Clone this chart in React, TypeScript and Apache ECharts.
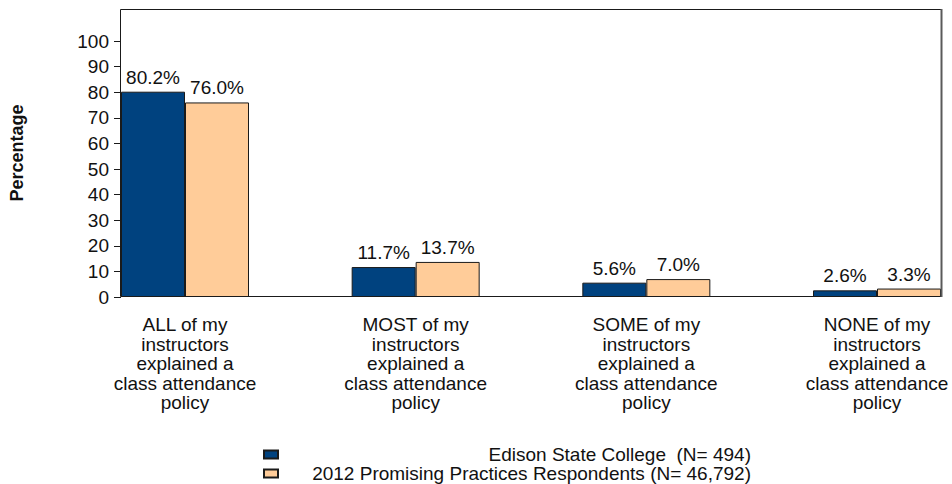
import React, { useEffect, useRef } from "react";
import * as echarts from "echarts";

const categories = [
  "ALL of my\ninstructors\nexplained a\nclass attendance\npolicy",
  "MOST of my\ninstructors\nexplained a\nclass attendance\npolicy",
  "SOME of my\ninstructors\nexplained a\nclass attendance\npolicy",
  "NONE of my\ninstructors\nexplained a\nclass attendance\npolicy",
];
const seriesNames = [
  "Edison State College  (N= 494)",
  "2012 Promising Practices Respondents (N= 46,792)",
];
const edisonValues = [80.2, 11.7, 5.6, 2.6];
const promisingValues = [76.0, 13.7, 7.0, 3.3];
const yTickValues = [0, 10, 20, 30, 40, 50, 60, 70, 80, 90, 100];
const yAxisTitle = "Percentage";

const FONT = "'Liberation Sans', Arial, Helvetica, sans-serif";
const BLUE = "#00427f";
const PEACH = "#ffcc99";

export default function App() {
  const ref = useRef<HTMLDivElement>(null);
  useEffect(() => {
    if (!ref.current) return;
    const chart = echarts.init(ref.current, undefined, { renderer: "svg" });
    const labelCfg = {
      show: true,
      position: "top",
      distance: 5,
      fontSize: 19,
      color: "#111",
      fontFamily: FONT,
      formatter: (p: any) => Number(p.value).toFixed(1) + "%",
    };
    chart.setOption({
      animation: false,
      backgroundColor: "#fff",
      textStyle: { fontFamily: FONT },
      grid: { left: 184, right: 75, top: 9, bottom: 187, containLabel: false },
      graphic: [
        {
          type: "rect",
          shape: { x: 120.5, y: 9.5, width: 821, height: 287 },
          style: { fill: "none", stroke: "#1a1a1a", lineWidth: 1 },
          z: 10,
          silent: true,
        },
        {
          type: "line",
          shape: { x1: 941.5, y1: 9, x2: 941.5, y2: 297 },
          style: { stroke: "#5a5a5a", lineWidth: 2 },
          z: 11,
          silent: true,
        },
      ],
      legend: {
        orient: "vertical",
        left: 263,
        top: 445,
        height: 40,
        padding: 0,
        itemWidth: 14,
        itemHeight: 8,
        itemGap: 0,
        icon: "rect",
        data: seriesNames,
        formatter: (name: string) => "{a|" + name + "}",
        textStyle: {
          fontSize: 19,
          color: "#111",
          fontFamily: FONT,
          rich: {
            a: {
              width: 468,
              align: "right",
              fontSize: 19,
              lineHeight: 18,
              height: 18,
              color: "#111",
              fontFamily: FONT,
            },
          },
        },
      },
      xAxis: {
        type: "category",
        data: categories,
        boundaryGap: false,
        axisLine: { show: false },
        axisTick: { show: false },
        axisLabel: {
          interval: 0,
          fontSize: 19,
          lineHeight: 19.5,
          color: "#111",
          margin: 18,
          fontFamily: FONT,
        },
      },
      yAxis: {
        type: "value",
        min: 0,
        max: 112.5,
        offset: 64,
        name: yAxisTitle,
        nameLocation: "middle",
        nameGap: 95,
        nameTextStyle: { fontSize: 18, fontWeight: "bold", color: "#111", fontFamily: FONT },
        axisLine: { show: false },
        splitLine: { show: false },
        axisTick: {
          show: true,
          length: 7,
          customValues: yTickValues,
          lineStyle: { color: "#1a1a1a", width: 1 },
        },
        axisLabel: {
          customValues: yTickValues,
          fontSize: 19,
          color: "#111",
          margin: 12,
          fontFamily: FONT,
        },
      },
      series: [
        {
          name: seriesNames[0],
          type: "bar",
          data: edisonValues,
          barWidth: 64,
          barGap: "0%",
          clip: false,
          itemStyle: { color: BLUE, borderColor: "#1a1a1a", borderWidth: 1 },
          label: labelCfg,
        },
        {
          name: seriesNames[1],
          type: "bar",
          data: promisingValues,
          barWidth: 64,
          barGap: "0%",
          clip: false,
          itemStyle: { color: PEACH, borderColor: "#1a1a1a", borderWidth: 1 },
          label: labelCfg,
        },
      ],
    });
    return () => chart.dispose();
  }, []);
  return (
    <div
      ref={ref}
      style={{ position: "fixed", left: 0, top: 0, width: 952, height: 484 }}
    />
  );
}
